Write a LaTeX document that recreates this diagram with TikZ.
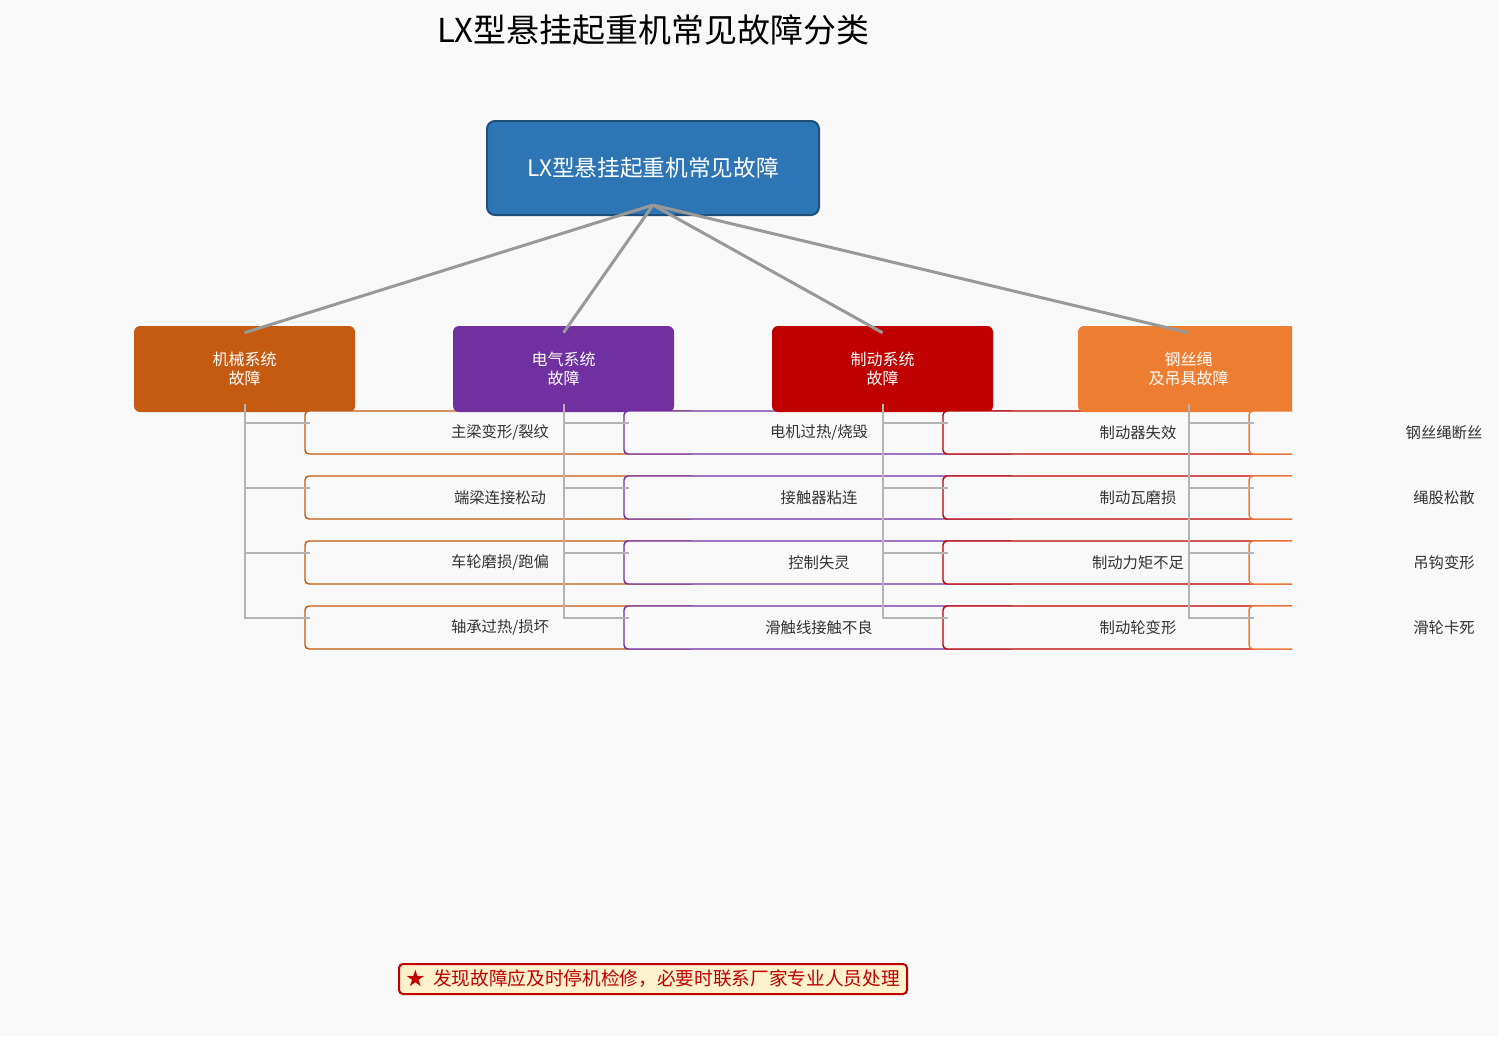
\documentclass[tikz,border=0pt]{standalone}
\usepackage{fontspec}
\setmainfont{Noto Sans CJK SC}
\usepackage{xcolor}
\usepackage{tikz}
\usetikzlibrary{positioning,calc}
\definecolor{bgcol}{HTML}{F9F9F9}
\definecolor{rootblue}{HTML}{2E75B6}
\definecolor{rootborder}{HTML}{1F4E79}
\definecolor{mechc}{HTML}{C55A11}
\definecolor{elecc}{HTML}{7030A0}
\definecolor{brakec}{HTML}{C00000}
\definecolor{ropec}{HTML}{ED7D31}
\definecolor{hubgray}{HTML}{999999}
\definecolor{treegray}{HTML}{B4B4B4}
\definecolor{itemtext}{HTML}{333333}
\definecolor{notefill}{HTML}{FFF2CC}
\tikzset{
  % root and category boxes
  rootbox/.style={draw=rootborder,fill=rootblue,line width=1.5pt,rounded corners=6pt,
    minimum width=249pt,minimum height=70.5pt,text=white,font=\fontsize{17}{20}\selectfont},
  catbox/.style={rounded corners=4.5pt,minimum width=165.75pt,minimum height=64.5pt,
    text=white,align=center,font=\fontsize{12}{14.25}\selectfont},
  % fault items
  itembox/.style={draw,fill=bgcol,line width=1.1pt,rounded corners=3pt,outer sep=0pt,
    minimum width=292.5pt,minimum height=32.25pt,text=itemtext,font=\fontsize{11.5}{14}\selectfont},
  itemtxt/.style={text=itemtext,font=\fontsize{11.5}{14}\selectfont},
  % connectors
  hubline/.style={line width=2.25pt,hubgray},
  treeline/.style={line width=1.5pt,treegray},
  % bottom note
  notebox/.style={draw=brakec,fill=notefill,line width=1.5pt,rounded corners=3pt,
    inner xsep=3pt,minimum width=381pt,minimum height=22.5pt,text=brakec,font=\fontsize{14}{17}\selectfont},
}

\begin{document}
\begin{tikzpicture}[x=0.75pt,y=-0.75pt]
\fill[bgcol] (0,0) rectangle (1498,1036);
\useasboundingbox (0,0) rectangle (1498,1036);
\node[font=\fontsize{24.7}{30}\selectfont] (title) at (653,30) {LX型悬挂起重机常见故障分类};
\node[rootbox] (root) at (653,168) {LX型悬挂起重机常见故障};
\begin{scope}
\clip (0,0) rectangle (1292,1036);
% mechanical
\node[catbox,fill=mechc] (mech) at (244.5,369) {机械系统\\故障};
\node[itembox,draw=mechc] (m1) at (500,432.5) {主梁变形/裂纹};
\node[itembox,draw=mechc,below=16.5pt of m1] (m2) {端梁连接松动};
\node[itembox,draw=mechc,below=16.5pt of m2] (m3) {车轮磨损/跑偏};
\node[itembox,draw=mechc,below=16.5pt of m3] (m4) {轴承过热/损坏};
% electrical
\node[catbox,fill=elecc] (elec) at (563.5,369) {电气系统\\故障};
\node[itembox,draw=elecc] (e1) at (819,432.5) {电机过热/烧毁};
\node[itembox,draw=elecc,below=16.5pt of e1] (e2) {接触器粘连};
\node[itembox,draw=elecc,below=16.5pt of e2] (e3) {控制失灵};
\node[itembox,draw=elecc,below=16.5pt of e3] (e4) {滑触线接触不良};
% brake
\node[catbox,fill=brakec] (brake) at (882.5,369) {制动系统\\故障};
\node[itembox,draw=brakec] (b1) at (1138,432.5) {制动器失效};
\node[itembox,draw=brakec,below=16.5pt of b1] (b2) {制动瓦磨损};
\node[itembox,draw=brakec,below=16.5pt of b2] (b3) {制动力矩不足};
\node[itembox,draw=brakec,below=16.5pt of b3] (b4) {制动轮变形};
% rope and lifting gear
\node[catbox,fill=ropec] (rope) at (1188.5,369) {钢丝绳\\及吊具故障};
\node[itembox,draw=ropec] (r1) at (1444,432.5) {};
\node[itembox,draw=ropec,below=16.5pt of r1] (r2) {};
\node[itembox,draw=ropec,below=16.5pt of r2] (r3) {};
\node[itembox,draw=ropec,below=16.5pt of r3] (r4) {};
\end{scope}
\node[itemtxt] (r1t) at (r1) {钢丝绳断丝};
\node[itemtxt] (r2t) at (r2) {绳股松散};
\node[itemtxt] (r3t) at (r3) {吊钩变形};
\node[itemtxt] (r4t) at (r4) {滑轮卡死};
% root to categories
\coordinate (hub) at ($(root.south)+(0,-11)$);
\draw[hubline] (hub) -- ($(mech.north)+(0,7)$);
\draw[hubline] (hub) -- ($(elec.north)+(0,7)$);
\draw[hubline] (hub) -- ($(brake.north)+(0,7)$);
\draw[hubline] (hub) -- ($(rope.north)+(0,7)$);
% category trees
\draw[treeline] ($(mech.south)+(0,-8)$) |- ($(m4.north west)+(5,12)$)
  ($(mech |- m1.north)+(0,12)$) -- ($(m1.north west)+(5,12)$)
  ($(mech |- m2.north)+(0,12)$) -- ($(m2.north west)+(5,12)$)
  ($(mech |- m3.north)+(0,12)$) -- ($(m3.north west)+(5,12)$);
\draw[treeline] ($(elec.south)+(0,-8)$) |- ($(e4.north west)+(5,12)$)
  ($(elec |- e1.north)+(0,12)$) -- ($(e1.north west)+(5,12)$)
  ($(elec |- e2.north)+(0,12)$) -- ($(e2.north west)+(5,12)$)
  ($(elec |- e3.north)+(0,12)$) -- ($(e3.north west)+(5,12)$);
\draw[treeline] ($(brake.south)+(0,-8)$) |- ($(b4.north west)+(5,12)$)
  ($(brake |- b1.north)+(0,12)$) -- ($(b1.north west)+(5,12)$)
  ($(brake |- b2.north)+(0,12)$) -- ($(b2.north west)+(5,12)$)
  ($(brake |- b3.north)+(0,12)$) -- ($(b3.north west)+(5,12)$);
\draw[treeline] ($(rope.south)+(0,-8)$) |- ($(r4.north west)+(5,12)$)
  ($(rope |- r1.north)+(0,12)$) -- ($(r1.north west)+(5,12)$)
  ($(rope |- r2.north)+(0,12)$) -- ($(r2.north west)+(5,12)$)
  ($(rope |- r3.north)+(0,12)$) -- ($(r3.north west)+(5,12)$);
\node[notebox] (note) at (653,979) {★\hspace{0.45em}发现故障应及时停机检修，必要时联系厂家专业人员处理};
\end{tikzpicture}
\end{document}
